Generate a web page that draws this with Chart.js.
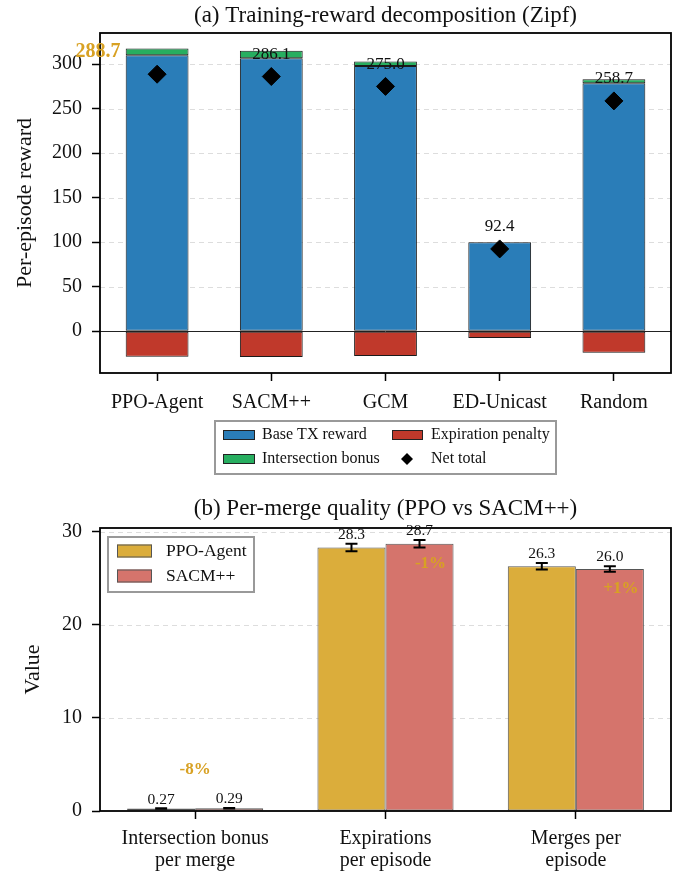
<!DOCTYPE html>
<html lang="en">
<head>
<meta charset="UTF-8">
<title>Reward decomposition</title>
<script src="https://cdn.jsdelivr.net/npm/chart.js@4.4.0/dist/chart.umd.min.js"></script>
<style>
  body { margin: 0; background: #fff; }
  #wrap { position: relative; width: 681px; height: 872px; }
  #wrapA { position: absolute; left: 0; top: 0; }
  #wrapB { position: absolute; left: 0; top: 490px; }
</style>
</head>
<body>
<div id="wrap">
  <div id="wrapA"><canvas id="rewardChart" width="681" height="490"></canvas></div>
  <div id="wrapB"><canvas id="mergeChart" width="681" height="382"></canvas></div>
</div>
<script>
// (a) reward components per method
const methods = ['PPO-Agent', 'SACM++', 'GCM', 'ED-Unicast', 'Random'];
const baseTx = [310.0, 306.5, 298.0, 100.0, 278.5];
const interBonus = [7.5, 8.5, 5.0, 0.0, 4.5];
const expPenalty = [-28.8, -28.9, -28.0, -7.6, -24.3];
const netTotal = [288.7, 286.1, 275.0, 92.4, 258.7];
const rewardTicks = [0, 50, 100, 150, 200, 250, 300];

// (b) per-merge quality, PPO vs SACM++
const metrics = [['Intersection bonus', 'per merge'], ['Expirations', 'per episode'], ['Merges per', 'episode']];
const ppoVals = [0.27, 28.3, 26.3];
const ppoErr = [0.03, 0.4, 0.35];
const sacmVals = [0.29, 28.7, 26.0];
const sacmErr = [0.03, 0.4, 0.3];
const pctDiff = ['-8%', '-1%', '+1%'];
const valueTicks = [0, 10, 20, 30];

const serif = "'Liberation Serif', 'Times New Roman', serif";
const gold = '#d8a123';
Chart.defaults.font.family = serif;
Chart.defaults.color = '#111';
Chart.defaults.animation = false;

function dashedGrid(chart) {
  const { ctx, chartArea: a, scales: { y } } = chart;
  ctx.save();
  ctx.strokeStyle = '#dddddd';
  ctx.lineWidth = 1;
  ctx.setLineDash([5, 4]);
  y.ticks.forEach(t => {
    if (t.value === 0) return;
    const py = Math.round(y.getPixelForValue(t.value)) + 0.5;
    ctx.beginPath(); ctx.moveTo(a.left, py); ctx.lineTo(a.right, py); ctx.stroke();
  });
  ctx.restore();
}

function frame(chart) {
  const { ctx, chartArea: a } = chart;
  ctx.save();
  ctx.strokeStyle = '#000';
  ctx.lineWidth = 1.8;
  ctx.strokeRect(a.left, a.top, a.right - a.left, a.bottom - a.top);
  ctx.restore();
}

function heading(chart, text, y) {
  const { ctx, chartArea: a } = chart;
  ctx.save();
  ctx.font = '23px ' + serif;
  ctx.fillStyle = '#111';
  ctx.textAlign = 'center';
  ctx.textBaseline = 'middle';
  ctx.fillText(text, (a.left + a.right) / 2, y);
  ctx.restore();
}

function legendBox(ctx, x, y, w, h) {
  ctx.fillStyle = '#fff';
  ctx.fillRect(x, y, w, h);
  ctx.strokeStyle = '#999';
  ctx.lineWidth = 2;
  ctx.strokeRect(x, y, w, h);
}

function patch(ctx, x, y, w, h, color, edge) {
  ctx.fillStyle = color;
  ctx.fillRect(x, y - h / 2, w, h);
  ctx.strokeStyle = edge;
  ctx.lineWidth = 1;
  ctx.strokeRect(x + 0.5, y - h / 2 + 0.5, w - 1, h - 1);
}

const rewardDecor = {
  id: 'rewardDecor',
  beforeDatasetsDraw(chart) {
    dashedGrid(chart);
    const { ctx, chartArea: a, scales: { y } } = chart;
    const z = Math.round(y.getPixelForValue(0)) + 0.5;
    ctx.save();
    ctx.strokeStyle = '#222';
    ctx.lineWidth = 1;
    ctx.beginPath(); ctx.moveTo(a.left, z); ctx.lineTo(a.right, z); ctx.stroke();
    ctx.restore();
  },
  afterDatasetsDraw(chart) {
    frame(chart);
    const { ctx, scales: { x, y } } = chart;
    const best = netTotal.indexOf(Math.max(...netTotal));
    ctx.save();
    ctx.textAlign = 'center';
    ctx.textBaseline = 'middle';
    netTotal.forEach((v, i) => {
      const px = x.getPixelForValue(i);
      const py = y.getPixelForValue(v) - 22;
      if (i === best) {
        ctx.font = 'bold 20px ' + serif;
        ctx.fillStyle = gold;
        ctx.fillText(v.toFixed(1), px - 59, py);
      } else {
        ctx.font = '17px ' + serif;
        ctx.fillStyle = '#111';
        ctx.fillText(v.toFixed(1), px, py);
      }
    });
    ctx.restore();
  },
  afterDraw(chart) {
    heading(chart, '(a) Training-reward decomposition (Zipf)', 16);
    const { ctx, chartArea: a } = chart;
    const lx = (a.left + a.right) / 2 - 170.5, ly = a.bottom + 48;
    ctx.save();
    legendBox(ctx, lx, ly, 341, 53);
    const ds = chart.data.datasets;
    patch(ctx, lx + 8, ly + 14, 32, 10, ds[0].backgroundColor, '#222');
    patch(ctx, lx + 177, ly + 14, 31, 10, ds[2].backgroundColor, '#222');
    patch(ctx, lx + 8, ly + 38, 32, 10, ds[1].backgroundColor, '#222');
    ctx.fillStyle = '#000';
    ctx.beginPath();
    const dx = lx + 192, dy = ly + 38;
    ctx.moveTo(dx - 6, dy); ctx.lineTo(dx, dy - 6); ctx.lineTo(dx + 6, dy); ctx.lineTo(dx, dy + 6);
    ctx.closePath(); ctx.fill();
    ctx.font = '16px ' + serif;
    ctx.fillStyle = '#111';
    ctx.textBaseline = 'middle';
    ctx.fillText(ds[0].label, lx + 47, ly + 14);
    ctx.fillText(ds[2].label, lx + 216, ly + 14);
    ctx.fillText(ds[1].label, lx + 47, ly + 38);
    ctx.fillText(ds[3].label, lx + 216, ly + 38);
    ctx.restore();
  }
};

const tickFont = { size: 20, family: serif };

new Chart(document.getElementById('rewardChart'), {
  type: 'bar',
  data: {
    labels: methods,
    datasets: [
      { label: 'Base TX reward', data: baseTx, backgroundColor: '#2a7db8', borderColor: '#1a1a1a', borderWidth: 1, borderSkipped: false, order: 1 },
      { label: 'Intersection bonus', data: interBonus, backgroundColor: '#27ae60', borderColor: '#1a1a1a', borderWidth: 1, borderSkipped: false, order: 1 },
      { label: 'Expiration penalty', data: expPenalty, backgroundColor: '#c0392b', borderColor: '#1a1a1a', borderWidth: 1, borderSkipped: false, order: 1 },
      { type: 'line', label: 'Net total', data: netTotal, stack: 'net', showLine: false,
        pointStyle: 'rectRot', pointRadius: 9, pointBackgroundColor: '#000', pointBorderColor: '#000',
        pointBorderWidth: 1, order: 0 }
    ]
  },
  options: {
    responsive: false,
    layout: { padding: { left: 0, right: 10, top: 33, bottom: 67 } },
    categoryPercentage: 1.0,
    barPercentage: 0.55,
    plugins: { legend: { display: false }, tooltip: { enabled: false } },
    scales: {
      x: {
        stacked: true,
        afterFit(s) { s.height = 50; },
        grid: { offset: false, drawOnChartArea: false, tickLength: 8, tickColor: '#000', tickWidth: 1.5 },
        border: { display: false },
        ticks: { font: tickFont, padding: 10, maxRotation: 0 }
      },
      y: {
        stacked: true,
        min: -47, max: 335,
        afterFit(s) { s.width = 100; },
        afterBuildTicks(s) { s.ticks = rewardTicks.map(v => ({ value: v })); },
        grid: { drawOnChartArea: false, tickLength: 8, tickColor: '#000', tickWidth: 1.5 },
        border: { display: false },
        ticks: { font: tickFont, padding: 10 },
        title: { display: true, text: 'Per-episode reward', font: { size: 22, family: serif }, padding: { top: 12 } }
      }
    }
  },
  plugins: [rewardDecor]
});

const mergeDecor = {
  id: 'mergeDecor',
  beforeDatasetsDraw(chart) { dashedGrid(chart); },
  afterDatasetsDraw(chart) {
    frame(chart);
    const { ctx, scales: { x, y } } = chart;
    const errs = [ppoErr, sacmErr];
    const vals = [ppoVals, sacmVals];
    ctx.save();
    [0, 1].forEach(d => {
      const meta = chart.getDatasetMeta(d);
      meta.data.forEach((bar, i) => {
        const top = y.getPixelForValue(vals[d][i] + errs[d][i]);
        const bot = y.getPixelForValue(vals[d][i] - errs[d][i]);
        ctx.strokeStyle = '#000';
        ctx.lineWidth = 2;
        ctx.beginPath();
        ctx.moveTo(bar.x, top); ctx.lineTo(bar.x, bot);
        ctx.moveTo(bar.x - 6, top); ctx.lineTo(bar.x + 6, top);
        ctx.moveTo(bar.x - 6, bot); ctx.lineTo(bar.x + 6, bot);
        ctx.stroke();
        ctx.font = '15.5px ' + serif;
        ctx.fillStyle = '#111';
        ctx.textAlign = 'center';
        ctx.textBaseline = 'bottom';
        ctx.fillText(vals[d][i].toFixed(vals[d][i] < 1 ? 2 : 1), bar.x, top - 1);
      });
    });
    const sacmMeta = chart.getDatasetMeta(1);
    ctx.font = 'bold 17px ' + serif;
    ctx.fillStyle = gold;
    ctx.textAlign = 'center';
    ctx.textBaseline = 'middle';
    pctDiff.forEach((t, i) => {
      if (sacmVals[i] > 5) {
        ctx.fillText(t, sacmMeta.data[i].x + 11, y.getPixelForValue(sacmVals[i]) + 20);
      } else {
        const hi = Math.max(ppoVals[i] + ppoErr[i], sacmVals[i] + sacmErr[i]);
        ctx.fillText(t, x.getPixelForValue(i), y.getPixelForValue(hi) - 38);
      }
    });
    ctx.restore();
  },
  afterDraw(chart) {
    heading(chart, '(b) Per-merge quality (PPO vs SACM++)', 19);
    const { ctx, chartArea: a } = chart;
    const lx = a.left + 8, ly = a.top + 9;
    ctx.save();
    legendBox(ctx, lx, ly, 146, 55);
    const ds = chart.data.datasets;
    patch(ctx, lx + 9, ly + 14, 35, 13, ds[0].backgroundColor, '#555');
    patch(ctx, lx + 9, ly + 39, 35, 13, ds[1].backgroundColor, '#555');
    ctx.font = '17.5px ' + serif;
    ctx.fillStyle = '#111';
    ctx.textBaseline = 'middle';
    ctx.fillText(ds[0].label, lx + 58, ly + 14);
    ctx.fillText(ds[1].label, lx + 58, ly + 39);
    ctx.restore();
  }
};

new Chart(document.getElementById('mergeChart'), {
  type: 'bar',
  data: {
    labels: metrics,
    datasets: [
      { label: 'PPO-Agent', data: ppoVals, backgroundColor: '#dbad3b', borderColor: '#555', borderWidth: 1, borderSkipped: false },
      { label: 'SACM++', data: sacmVals, backgroundColor: '#d5746c', borderColor: '#555', borderWidth: 1, borderSkipped: false }
    ]
  },
  options: {
    responsive: false,
    layout: { padding: { left: 0, right: 10, top: 38, bottom: 0 } },
    categoryPercentage: 0.715,
    barPercentage: 1.0,
    plugins: { legend: { display: false }, tooltip: { enabled: false } },
    scales: {
      x: {
        afterFit(s) { s.height = 61; },
        grid: { offset: false, drawOnChartArea: false, tickLength: 8, tickColor: '#000', tickWidth: 1.5 },
        border: { display: false },
        ticks: { font: { size: 20, family: serif, lineHeight: 1.1 }, padding: 9, maxRotation: 0 }
      },
      y: {
        min: 0, max: 30.4,
        afterFit(s) { s.width = 100; },
        afterBuildTicks(s) { s.ticks = valueTicks.map(v => ({ value: v })); },
        grid: { drawOnChartArea: false, tickLength: 8, tickColor: '#000', tickWidth: 1.5 },
        border: { display: false },
        ticks: { font: tickFont, padding: 10 },
        title: { display: true, text: 'Value', font: { size: 22, family: serif }, padding: { top: 20 } }
      }
    }
  },
  plugins: [mergeDecor]
});
</script>
</body>
</html>
